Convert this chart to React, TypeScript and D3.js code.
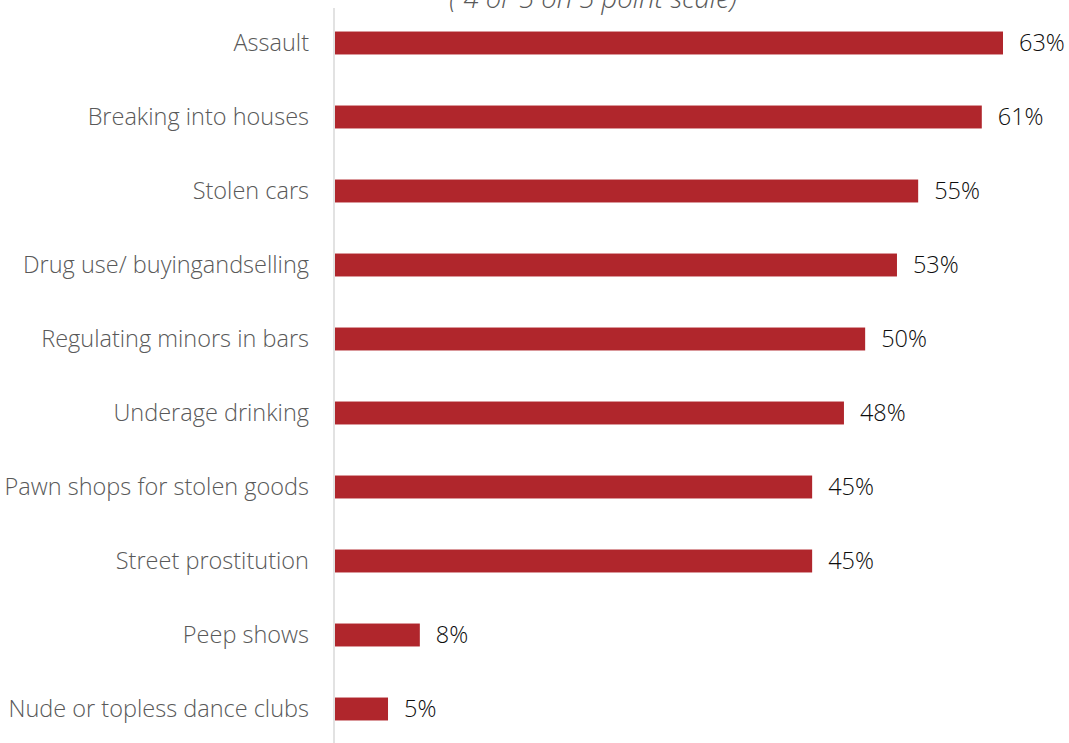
import React from "react";
import * as d3 from "d3";

const categories = [
  "Assault",
  "Breaking into houses",
  "Stolen cars",
  "Drug use/ buyingandselling",
  "Regulating minors in bars",
  "Underage drinking",
  "Pawn shops for stolen goods",
  "Street prostitution",
  "Peep shows",
  "Nude or topless dance clubs",
];
const values = [63, 61, 55, 53, 50, 48, 45, 45, 8, 5];
const title = "( 4 or 5 on 5 point scale)";

const W = 1069;
const H = 743;

export default function App() {
  const x = d3.scaleLinear().domain([0, 63]).range([335, 1003]);
  const y = d3
    .scaleBand<string>()
    .domain(categories)
    .range([6, 746])
    .paddingInner(0.69)
    .paddingOuter(0.345);
  const font = "'Open Sans', sans-serif";
  return (
    <svg
      width={W}
      height={H}
      style={{ position: "absolute", left: 0, top: 0, background: "#fff" }}
    >
      <text
        x={593}
        y={8}
        textAnchor="middle"
        fontFamily={font}
        fontStyle="italic"
        fontSize={27.5}
        fontWeight={300}
        fill="#595959"
      >
        {title}
      </text>
      {categories.map((c, i) => {
        const yy = y(c)!;
        const bw = y.bandwidth();
        return (
          <g key={c}>
            <rect
              x={x(0)}
              y={yy}
              width={x(values[i]) - x(0)}
              height={bw}
              fill="#B0262C"
            />
            <text
              x={309}
              y={yy + bw / 2}
              dy="0.35em"
              textAnchor="end"
              fontFamily={font}
              fontSize={23.5}
              fontWeight={300}
              fill="#595959"
            >
              {c}
            </text>
            <text
              x={x(values[i]) + 16}
              y={yy + bw / 2}
              dy="0.35em"
              fontFamily={font}
              fontSize={23.5}
              fontWeight={300}
              fill="#0d0d0d"
            >
              {values[i] + "%"}
            </text>
          </g>
        );
      })}
      <line x1={334} x2={334} y1={8} y2={H} stroke="#D9D9D9" strokeWidth={1.5} />
    </svg>
  );
}
